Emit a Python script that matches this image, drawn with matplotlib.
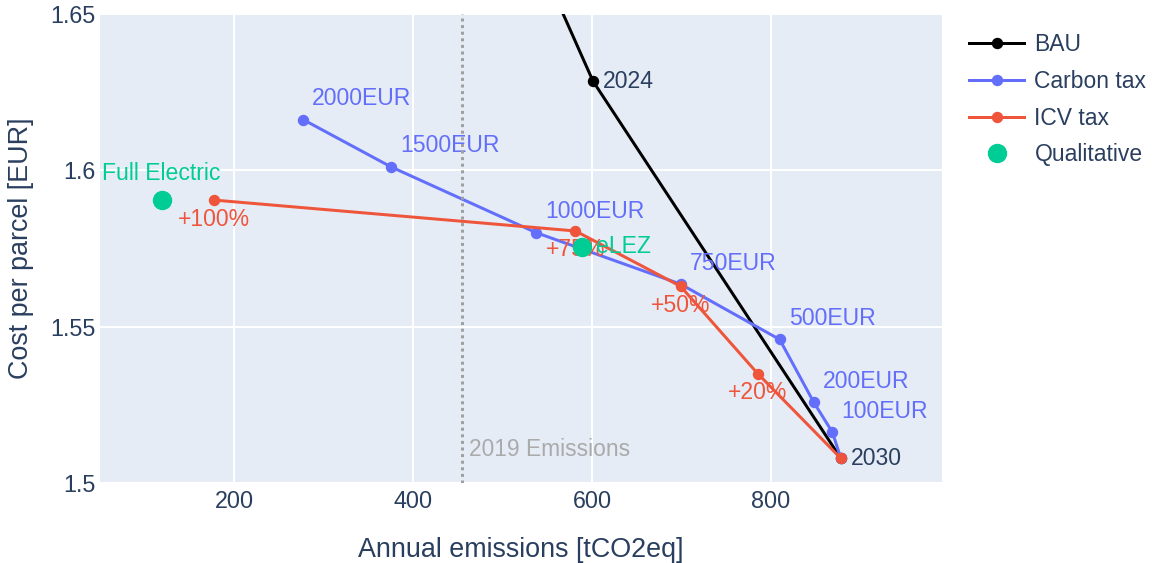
import matplotlib
matplotlib.use('Agg')
import matplotlib.pyplot as plt

# data --------------------------------------------------------------------
bau_x = [877.9, 601.0, 521]
bau_y = [1.5079, 1.6285, 1.68]
bau_txt = ['2030', '2024', '']

carbon_x = [277.2, 375.3, 537.1, 698.9, 809.6, 847.7, 868.6, 877.9]
carbon_y = [1.6162, 1.6011, 1.5801, 1.5636, 1.5459, 1.5258, 1.5162, 1.5079]
carbon_txt = ['2000EUR', '1500EUR', '1000EUR', '750EUR', '500EUR', '200EUR', '100EUR', '']

icv_x = [177.0, 581.4, 698.9, 785.0, 877.9]
icv_y = [1.5905, 1.5806, 1.5629, 1.5350, 1.5079]
icv_txt = ['+100%', '+75%', '+50%', '+20%', '']

qual_x = [118.8, 588.9]
qual_y = [1.5904, 1.5755]
qual_txt = ['Full Electric', 'eLEZ']

emis_2019 = 454.4

# style ----------------------------------------------------------------
plt.rcParams['font.family'] = ['Liberation Sans', 'DejaVu Sans']
BG = '#E5ECF6'
TXT = '#2a3f5f'
BLUE = '#636efa'
RED = '#EF553B'
GREEN = '#00cc96'
PX = 0.72  # px -> pt at dpi 100
FS = 16.6  # text labels on points

fig = plt.figure(figsize=(11.53, 5.63), dpi=100)
ax = fig.add_axes([100/1153, 80/563, 842/1153, 469/563])
ax.set_facecolor(BG)
for s in ax.spines.values():
    s.set_visible(False)
ax.grid(True, color='white', linewidth=1.5)
ax.set_axisbelow(True)

ax.set_xlim(50, 991)
ax.set_ylim(1.5, 1.65)
ax.set_xticks([200, 400, 600, 800])
ax.set_yticks([1.5, 1.55, 1.6, 1.65])
ax.set_yticklabels(['1.5', '1.55', '1.6', '1.65'])
ax.tick_params(length=0, labelsize=16.8, labelcolor=TXT)
ax.tick_params(axis='x', pad=5)
ax.tick_params(axis='y', pad=3)
ax.set_xlabel('Annual emissions [tCO2eq]', fontsize=19.4, color=TXT, labelpad=17)
ax.set_ylabel('Cost per parcel [EUR]', fontsize=19.4, color=TXT, labelpad=12)

lw = 3 * PX
ms = 10 * PX

ax.plot(bau_x, bau_y, '-o', color='black', lw=lw, ms=ms, label='BAU', zorder=3)
for x, y, t in zip(bau_x, bau_y, bau_txt):
    ax.annotate(t, (x, y), xytext=(10*PX, 0), textcoords='offset points',
                ha='left', va='center', fontsize=FS, color=TXT, zorder=3)

ax.plot(carbon_x, carbon_y, '-o', color=BLUE, lw=lw, ms=ms, label='Carbon tax', zorder=4)
for x, y, t in zip(carbon_x, carbon_y, carbon_txt):
    ax.annotate(t, (x, y), xytext=(9*PX, 21*PX), textcoords='offset points',
                ha='left', va='center', fontsize=FS, color=BLUE, zorder=4)

ax.plot(icv_x, icv_y, '-o', color=RED, lw=lw, ms=ms, label='ICV tax', zorder=5)
for x, y, t in zip(icv_x, icv_y, icv_txt):
    ax.annotate(t, (x, y), xytext=(0, -19*PX), textcoords='offset points',
                ha='center', va='center', fontsize=FS, color=RED, zorder=5)

ax.plot(qual_x, qual_y, 'o', color=GREEN, ms=18*PX, label='Qualitative', zorder=6)
ax.annotate(qual_txt[0], (qual_x[0], qual_y[0]), xytext=(0, 27*PX), textcoords='offset points',
            ha='center', va='center', fontsize=FS, color=GREEN, zorder=6)
ax.annotate(qual_txt[1], (qual_x[1], qual_y[1]), xytext=(14*PX, 0), textcoords='offset points',
            ha='left', va='center', fontsize=FS, color=GREEN, zorder=6)

ax.axvline(emis_2019, color='#a0a0a0', lw=3*PX, ls=(0, (1, 1.2)), zorder=7)
ax.annotate('2019 Emissions', (emis_2019, 1.5), xytext=(7*PX, 33*PX), textcoords='offset points',
            ha='left', va='center', fontsize=16.4, color='#aaaaaa', zorder=7)

fig.legend(loc='upper left', bbox_to_anchor=(960/1153, 1 - 24/563), frameon=False,
           fontsize=16.5, labelcolor=TXT, handlelength=2.4, handletextpad=0.45,
           labelspacing=0.6, borderaxespad=0)

fig.savefig('out.png', dpi=100, facecolor='white')
